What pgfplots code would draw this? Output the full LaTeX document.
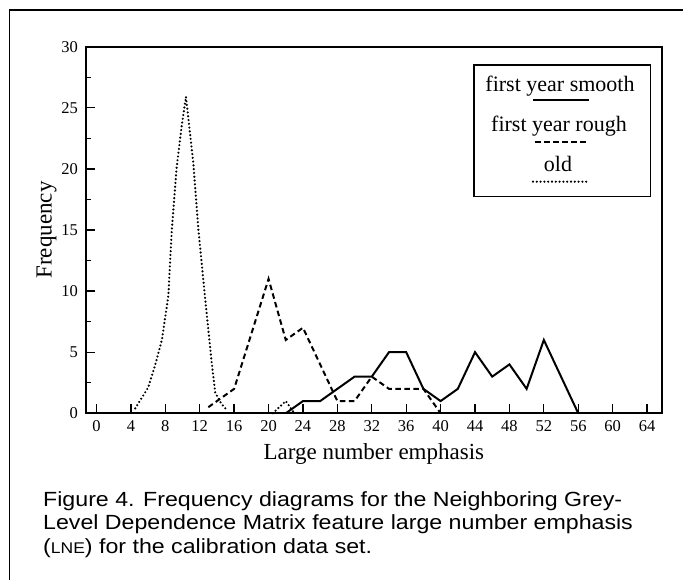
\documentclass[border=0pt]{standalone}
\usepackage{fontspec}
\setmainfont{Liberation Serif}
\newfontfamily\capfont[FakeStretch=1.13]{Liberation Sans}
\usepackage{pgfplots}
\pgfplotsset{compat=1.18}
\begin{document}
\begin{tikzpicture}[x=1pt,y=1pt]
\path[use as bounding box, fill=white] (0,0) rectangle (683,580);
\draw[line width=1.6pt] (9.5,0) -- (9.5,570) -- (683,570);
\begin{axis}[
  at={(86pt,166.7pt)}, anchor=south west,
  scale only axis, width=575.7pt, height=366.6pt,
  xmin=-1.22, xmax=65.7, ymin=0, ymax=30,
  xtick={0,4,...,64}, ytick={0,5,...,30}, minor ytick={2.5,7.5,...,27.5},
  tick align=inside, xtick pos=bottom, ytick pos=left,
  major tick length=9pt, minor tick length=4.7pt,
  every tick/.style={line width=1.3pt, black},
  axis line style={line width=1.8pt},
  tick label style={font=\fontsize{16.5}{16.5}\selectfont},
  /pgf/number format/assume math mode=true,
  xlabel={Large number emphasis}, ylabel={Frequency},
  label style={font=\fontsize{23}{23}\selectfont},
  xlabel style={at={(axis description cs:0.5,-0.127)}, anchor=base},
  ylabel style={at={(axis description cs:-0.0596,0.5)}, anchor=base},
  yticklabel style={xshift=-4.5pt},
  xticklabel style={yshift=-4pt},
  clip=false,
]
% first year smooth
\addplot[black, line width=2pt] coordinates {
(22,0) (24,1) (26,1) (28,2) (30,3) (32,3) (34,5) (36,5) (38,2) (40,1)
(42,2) (44,5) (46,3) (48,4) (50,2) (52,6) (56,0)};
% first year rough
\addplot[black, line width=2pt, dash pattern=on 5.5pt off 3.5pt] coordinates {
(13,0.5) (14,1) (16,2) (18,6.5) (20,11) (22,6) (24,7) (26,4) (28,1) (30,1)
(32,3) (34,2) (38,2) (40,0)};
% old
\addplot[black, line width=2.4pt, line cap=round, dash pattern=on 0pt off 3.8pt] coordinates {
(4.5,0.4) (6,2.1) (6.8,3.9) (7.6,6) (8.35,9.6) (8.75,15) (9.3,20) (9.9,23.5)
(10.4,25.9) (11.25,20.5) (11.85,15) (12.6,9.6) (13.4,4.1) (13.8,1.7) (14.5,0.8) (15.1,0.3)};
\addplot[black, line width=2.4pt, line cap=round, dash pattern=on 0pt off 3.8pt] coordinates {
(20.5,0) (22,1) (23,0)};
\end{axis}
% legend
\draw[line width=1.5pt] (474,515) rectangle (650.7,383.3);
\node[anchor=base, font=\fontsize{22}{22}\selectfont, inner sep=0pt] at (560,488.3) {first year smooth};
\draw[line width=2pt] (533,480) -- (589,480);
\node[anchor=base, font=\fontsize{22}{22}\selectfont, inner sep=0pt] at (559,448.3) {first year rough};
\draw[line width=2pt, dash pattern=on 5.5pt off 3.5pt] (535,438.3) -- (588,438.3);
\node[anchor=base, font=\fontsize{22}{22}\selectfont, inner sep=0pt] at (558,408.3) {old};
\draw[line width=2.4pt, line cap=round, dash pattern=on 0pt off 3.8pt] (533,398.3) -- (589,398.3);
% caption
\node[anchor=base west, font=\capfont\fontsize{20.5}{20.5}\selectfont, inner sep=0pt] at (43,73.3) {Figure 4. Frequency diagrams for the Neighboring Grey-};
\node[anchor=base west, font=\capfont\fontsize{20.5}{20.5}\selectfont, inner sep=0pt] at (43,50) {Level Dependence Matrix feature large number emphasis};
\node[anchor=base west, font=\capfont\fontsize{20.5}{20.5}\selectfont, inner sep=0pt] at (43,26.7) {({\fontsize{15.5}{15.5}\selectfont LNE}) for the calibration data set.};
\end{tikzpicture}
\end{document}
